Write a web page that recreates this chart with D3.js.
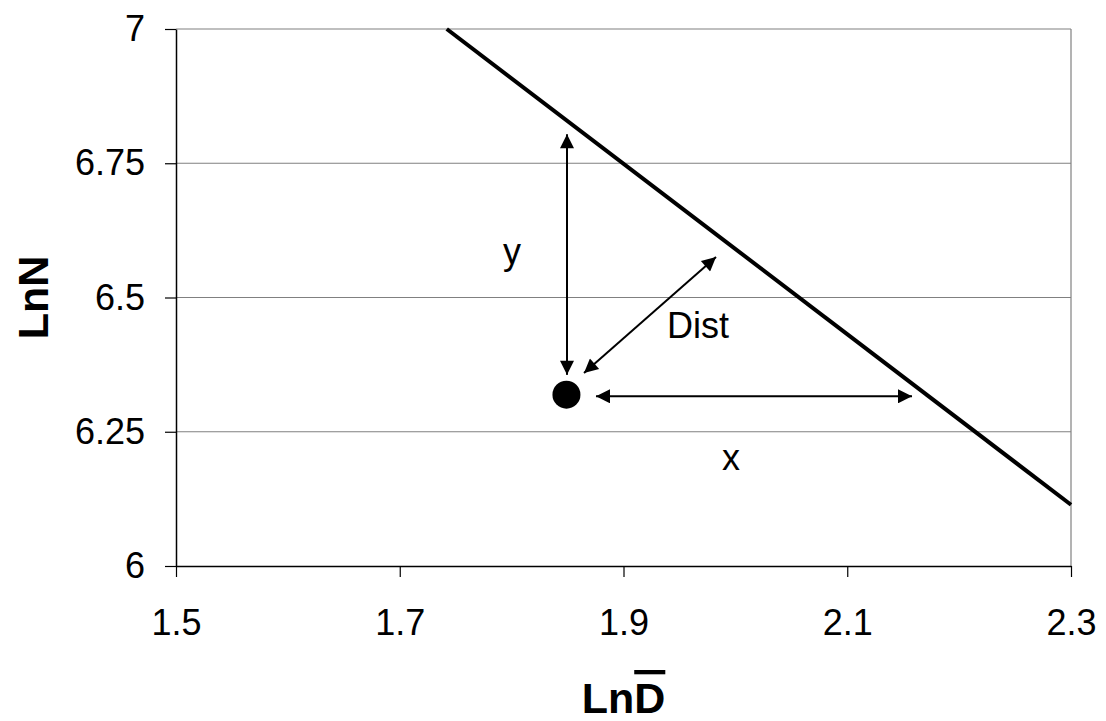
<!DOCTYPE html>
<html lang="en">
<head>
    <meta charset="UTF-8">
    <title>LnN vs LnD</title>
    <style>
        body {
            margin: 0;
            background: #fff;
            font-family: Arial, "Liberation Sans", sans-serif;
        }
    </style>
</head>
<body>
    <div id="chart"></div>
    <script src="https://d3js.org/d3.v7.min.js"></script>
    <script>
        // axis ticks
        const xTicks = [1.5, 1.7, 1.9, 2.1, 2.3];
        const yTicks = [6, 6.25, 6.5, 6.75, 7];

        // boundary line (LnD, LnN)
        const lineX = [1.742, 2.3];
        const lineY = [7, 6.114];

        // the observation
        const pointX = [1.849];
        const pointY = [6.319];

        // double-headed arrows: from -> to
        const arrowX1 = [1.8495, 1.8754, 1.8647];
        const arrowY1 = [6.356, 6.316, 6.3594];
        const arrowX2 = [1.8495, 2.1579, 1.9827];
        const arrowY2 = [6.804, 6.316, 6.5754];

        // labels on the arrows
        const labelText = ["y", "x", "Dist"];
        const labelX = [1.8003, 1.996, 1.9666];
        const labelY = [6.5624, 6.1788, 6.4246];

        const W = 1106, H = 721;
        const margin = { top: 29, right: 35, bottom: 155, left: 176 };
        const width = W - margin.left - margin.right,
              height = H - margin.top - margin.bottom;

        const svg = d3.select("#chart").append("svg")
            .attr("width", W)
            .attr("height", H);

        // arrowheads
        const defs = svg.append("defs");
        defs.append("marker")
            .attr("id", "head")
            .attr("viewBox", "0 0 10 10")
            .attr("refX", 10).attr("refY", 5)
            .attr("markerUnits", "userSpaceOnUse")
            .attr("markerWidth", 16).attr("markerHeight", 14)
            .attr("orient", "auto-start-reverse")
            .append("path")
            .attr("d", "M0,0L10,5L0,10Z")
            .attr("fill", "#000");

        const g = svg.append("g")
            .attr("transform", `translate(${margin.left},${margin.top})`);

        const x = d3.scaleLinear().domain([1.5, 2.3]).range([0, width]);
        const y = d3.scaleLinear().domain([6, 7]).range([height, 0]);

        // gridlines
        g.append("g")
            .selectAll("line")
            .data(yTicks.filter(d => d > 6))
            .join("line")
            .attr("x1", 0).attr("x2", width)
            .attr("y1", d => y(d)).attr("y2", d => y(d))
            .attr("stroke", "#808080")
            .attr("stroke-width", 1.2);

        // right border
        g.append("line")
            .attr("x1", width).attr("x2", width)
            .attr("y1", 0).attr("y2", height)
            .attr("stroke", "#808080")
            .attr("stroke-width", 1.2);

        // axes
        const xAxis = g.append("g")
            .attr("transform", `translate(0,${height})`)
            .call(d3.axisBottom(x).tickValues(xTicks).tickFormat(d3.format("")).tickSize(11).tickSizeOuter(0).tickPadding(32));
        const yAxis = g.append("g")
            .call(d3.axisLeft(y).tickValues(yTicks).tickFormat(d3.format("")).tickSize(11).tickSizeOuter(0).tickPadding(20));

        [xAxis, yAxis].forEach(a => {
            a.attr("font-family", null).attr("font-size", null);
            a.selectAll("text")
                .style("font-family", "Arial, 'Liberation Sans', sans-serif")
                .style("font-size", "36px")
                .attr("fill", "#000");
            a.selectAll("line").attr("stroke", "#000").attr("stroke-width", 1.2);
            a.select(".domain").attr("stroke", "#000").attr("stroke-width", 1.5);
        });

        // boundary line
        g.append("path")
            .datum(lineX.map((d, i) => [d, lineY[i]]))
            .attr("d", d3.line().x(d => x(d[0])).y(d => y(d[1])))
            .attr("fill", "none")
            .attr("stroke", "#000")
            .attr("stroke-width", 4);

        // arrows
        g.append("g")
            .selectAll("line")
            .data(arrowX1.map((d, i) => ({ x1: d, y1: arrowY1[i], x2: arrowX2[i], y2: arrowY2[i] })))
            .join("line")
            .attr("x1", d => x(d.x1)).attr("y1", d => y(d.y1))
            .attr("x2", d => x(d.x2)).attr("y2", d => y(d.y2))
            .attr("stroke", "#000")
            .attr("stroke-width", 2)
            .attr("marker-start", "url(#head)")
            .attr("marker-end", "url(#head)");

        // the point
        g.append("g")
            .selectAll("circle")
            .data(pointX.map((d, i) => [d, pointY[i]]))
            .join("circle")
            .attr("cx", d => x(d[0]))
            .attr("cy", d => y(d[1]))
            .attr("r", 14)
            .attr("fill", "#000");

        // arrow labels
        g.append("g")
            .selectAll("text")
            .data(labelText.map((t, i) => ({ t, x: labelX[i], y: labelY[i] })))
            .join("text")
            .attr("x", d => x(d.x))
            .attr("y", d => y(d.y))
            .attr("text-anchor", "middle")
            .style("font-size", "36px")
            .text(d => d.t);

        // axis titles
        const xt = svg.append("text")
            .attr("x", margin.left + width / 2)
            .attr("y", 713)
            .attr("text-anchor", "middle")
            .style("font-size", "43px")
            .attr("font-weight", "bold");
        xt.append("tspan").text("Ln");
        xt.append("tspan").style("text-decoration", "overline").text("D");

        svg.append("text")
            .attr("transform", `translate(48,${margin.top + height / 2}) rotate(-90)`)
            .attr("text-anchor", "middle")
            .style("font-size", "43px")
            .attr("font-weight", "bold")
            .text("LnN");
    </script>
</body>
</html>
